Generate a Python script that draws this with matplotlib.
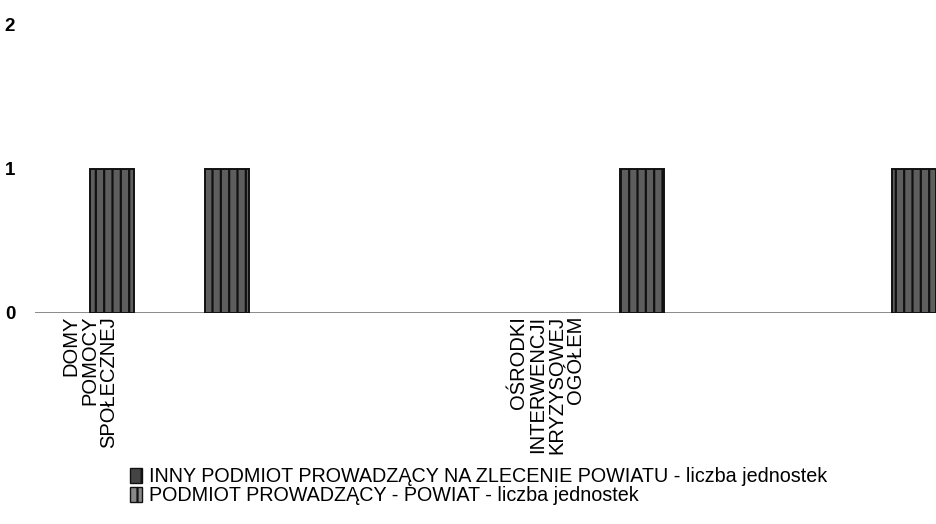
import numpy as np
import matplotlib
matplotlib.use("Agg")
import matplotlib.pyplot as plt
from matplotlib.patches import Patch

# dane
categories = ["DOMY\nPOMOCY\nSPOŁECZNEJ", "OŚRODKI\nINTERWENCJI\nKRYZYSOWEJ\nOGÓŁEM"]
series_names = ["INNY PODMIOT PROWADZĄCY NA ZLECENIE POWIATU - liczba jednostek",
                "PODMIOT PROWADZĄCY - POWIAT - liczba jednostek"]
inny_values = [1, 1]
powiat_values = [1, 1]
y_ticks = [0, 1, 2]

plt.rcParams["font.family"] = ["Liberation Sans", "DejaVu Sans"]
plt.rcParams["hatch.linewidth"] = 1.6

fig = plt.figure(figsize=(9.37, 5.24), dpi=100)
ax = fig.add_axes([0.037, 0.4027, 0.963, 0.5497])

# uklad slupkow (jednostka = szerokosc slupka), generator oryginalu rozmieszczal je nierowno
bar_w = 1.0
cat_pos = np.array([1.25, 11.65])
inny_off = np.array([0.0, 1.65])
powiat_off = np.array([2.61, 7.83])

ax.bar(cat_pos + inny_off, inny_values, width=bar_w, align="edge",
       color="#5e5e5e", edgecolor="#111111", hatch="||", linewidth=1.4, zorder=3)
ax.bar(cat_pos + powiat_off, powiat_values, width=bar_w, align="edge",
       color="#5e5e5e", edgecolor="#111111", hatch="||", linewidth=1.4, zorder=3)

ax.axhline(0, color="#777777", lw=1.2, zorder=2)

ax.set_xlim(0, 20.5)
ax.set_ylim(0, 2)
ax.set_yticks(y_ticks)
ax.set_yticklabels([str(t) for t in y_ticks], fontsize=13.5, fontweight="bold")
ax.tick_params(axis="y", length=0, pad=14)
ax.set_xticks(cat_pos)
ax.set_xticklabels(categories, rotation=90, fontsize=14.5, ha="center", va="top",
                   multialignment="right", linespacing=1.0)
ax.tick_params(axis="x", length=0, pad=2)
for s in ax.spines.values():
    s.set_visible(False)

handles = [Patch(facecolor="#444444", edgecolor="#111111", hatch="|"),
           Patch(facecolor="#888888", edgecolor="#111111", hatch="||")]
fig.legend(handles, series_names, loc="upper left", bbox_to_anchor=(0.1285, 0.127),
           frameon=False, fontsize=14.2, handlelength=0.6, handleheight=0.8,
           handletextpad=0.35, labelspacing=0.0, borderpad=0)

fig.savefig("out.png", dpi=100)
